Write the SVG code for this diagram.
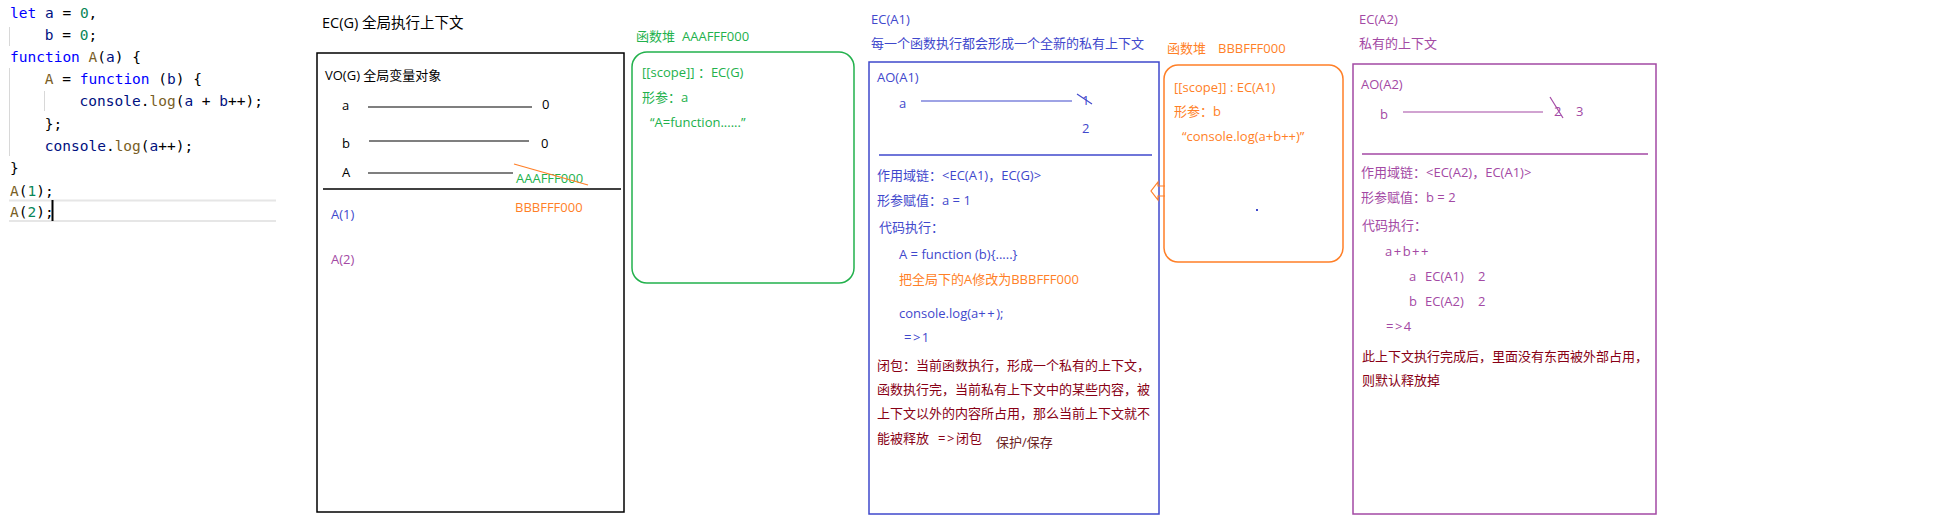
<svg xmlns="http://www.w3.org/2000/svg" width="1954" height="532" viewBox="0 0 1954 532">
<style>
text{font-family:"Open Sans","Noto Sans CJK SC",sans-serif;font-size:13px}
.code text{font-family:"DejaVu Sans Mono","Liberation Mono",monospace;font-size:14.5px;fill:#000}
.kw{fill:#0000ff}.vr{fill:#001080}.nm{fill:#098658}.fn{fill:#795e26}
.blk{fill:#000}.grn{fill:#22b14c}.org{fill:#ff7f27}.ind{fill:#3f48cc}.pur{fill:#a349a4}.red{fill:#880015}
.box{fill:none;stroke-width:1.5}
.ls{letter-spacing:1.5px}
</style>
<rect width="1954" height="532" fill="#fff"/>
<g id="code" class="code">
<line x1="9.5" y1="27" x2="9.5" y2="46" stroke="#d8d8d8"/>
<line x1="9.5" y1="68" x2="9.5" y2="156" stroke="#d8d8d8"/>
<line x1="44.5" y1="91" x2="44.5" y2="111" stroke="#d8d8d8"/>
<line x1="9" y1="200.5" x2="276" y2="200.5" stroke="#e6e6e6" stroke-width="2"/>
<line x1="9" y1="221" x2="276" y2="221" stroke="#e6e6e6" stroke-width="2"/>
<line x1="52.5" y1="200" x2="52.5" y2="221" stroke="#000" stroke-width="2"/>
<text x="10" y="18"><tspan class="kw">let</tspan> <tspan class="vr">a</tspan> = <tspan class="nm">0</tspan>,</text>
<text x="44.8" y="40"><tspan class="vr">b</tspan> = <tspan class="nm">0</tspan>;</text>
<text x="10" y="62"><tspan class="kw">function</tspan> <tspan class="fn">A</tspan>(<tspan class="vr">a</tspan>) {</text>
<text x="44.8" y="84"><tspan class="fn">A</tspan> = <tspan class="kw">function</tspan> (<tspan class="vr">b</tspan>) {</text>
<text x="79.6" y="106"><tspan class="vr">console</tspan>.<tspan class="fn">log</tspan>(<tspan class="vr">a</tspan> + <tspan class="vr">b</tspan>++);</text>
<text x="44.8" y="129">};</text>
<text x="44.8" y="151"><tspan class="vr">console</tspan>.<tspan class="fn">log</tspan>(<tspan class="vr">a</tspan>++);</text>
<text x="10" y="173">}</text>
<text x="10" y="196"><tspan class="fn">A</tspan>(<tspan class="nm">1</tspan>);</text>
<text x="10" y="217"><tspan class="fn">A</tspan>(<tspan class="nm">2</tspan>);</text>
</g>
<g id="ecg">
<text x="322" y="28" class="blk" style="font-size:14.5px">EC(G) 全局执行上下文</text>
<rect x="317" y="53" width="307" height="459" class="box" stroke="#000"/>
<text x="325" y="80" class="blk">VO(G) 全局变量对象</text>
<text x="342" y="110" class="blk">a</text>
<text x="542" y="109" class="blk">0</text>
<text x="342" y="148" class="blk">b</text>
<text x="541" y="148" class="blk">0</text>
<text x="342" y="177" class="blk">A</text>
<text x="516" y="183" class="grn">AAAFFF000</text>
<text x="515" y="212" class="org">BBBFFF000</text>
<line x1="323" y1="189" x2="621" y2="189" stroke="#000" stroke-width="1.5"/>
<text x="331" y="219" class="ind">A(1)</text>
<text x="331" y="264" class="pur">A(2)</text>
</g>
<g id="heapA">
<text x="636" y="41" class="grn">函数堆</text>
<text x="682" y="41" class="grn">AAAFFF000</text>
<rect x="632" y="52" width="222" height="231" rx="15" class="box" stroke="#22b14c"/>
<text x="642" y="77" class="grn">[[scope]] ：EC(G)</text>
<text x="642" y="102" class="grn">形参：a</text>
<text x="650" y="127" class="grn">“A=function......”</text>
</g>
<g id="eca1">
<text x="871" y="24" class="ind">EC(A1)</text>
<text x="871" y="48" class="ind">每一个函数执行都会形成一个全新的私有上下文</text>
<rect x="869" y="62" width="290" height="452" class="box" stroke="#3f48cc"/>
<text x="877" y="82" class="ind">AO(A1)</text>
<text x="899" y="108" class="ind">a</text>
<text x="1082" y="105" class="ind">1</text>
<text x="1082" y="133" class="ind">2</text>
<line x1="879" y1="155" x2="1152" y2="155" stroke="#3f48cc" stroke-width="1.5"/>
<text x="877" y="180" class="ind">作用域链：&lt;EC(A1)，EC(G)&gt;</text>
<text x="877" y="205" class="ind">形参赋值：a = 1</text>
<text x="879" y="232" class="ind">代码执行：</text>
<text x="899" y="259" class="ind">A = function (b){.....}</text>
<text x="899" y="284" class="org">把全局下的A修改为BBBFFF000</text>
<text x="899" y="318" class="ind">console.log(a<tspan class="ls">++</tspan>);</text>
<text x="904" y="342" class="ind ls">=&gt;1</text>
<text x="877" y="370" class="red">闭包：当前函数执行，形成一个私有的上下文，</text>
<text x="877" y="394" class="red">函数执行完，当前私有上下文中的某些内容，被</text>
<text x="877" y="418" class="red">上下文以外的内容所占用，那么当前上下文就不</text>
<text x="877" y="443" class="red">能被释放</text>
<text x="938" y="443" class="red"><tspan class="ls">=&gt;</tspan>闭包</text>
<text x="996" y="447" style="fill:#6b1f25">保护/保存</text>
</g>
<g id="heapB">
<text x="1167" y="53" class="org">函数堆</text>
<text x="1218" y="53" class="org">BBBFFF000</text>
<rect x="1164" y="65" width="179" height="197" rx="14" class="box" stroke="#ff7f27"/>
<text x="1174" y="92" class="org">[[scope]] : EC(A1)</text>
<text x="1174" y="116" class="org">形参：b</text>
<text x="1182" y="141" class="org">“console.log(a+b++)”</text>
<rect x="1256" y="209" width="2" height="2" fill="#3f48cc"/>
</g>
<g id="eca2">
<text x="1359" y="24" class="pur">EC(A2)</text>
<text x="1359" y="48" class="pur">私有的上下文</text>
<rect x="1353" y="64" width="303" height="450" class="box" stroke="#a349a4"/>
<text x="1361" y="89" class="pur">AO(A2)</text>
<text x="1380" y="119" class="pur">b</text>
<text x="1554" y="116" class="pur">2</text>
<text x="1576" y="116" class="pur">3</text>
<line x1="1362" y1="154" x2="1648" y2="154" stroke="#a349a4" stroke-width="1.5"/>
<text x="1361" y="177" class="pur">作用域链：&lt;EC(A2)，EC(A1)&gt;</text>
<text x="1361" y="202" class="pur">形参赋值：b = 2</text>
<text x="1362" y="230" class="pur">代码执行：</text>
<text x="1385" y="256" class="pur ls">a+b++</text>
<text x="1409" y="281" class="pur">a</text>
<text x="1425" y="281" class="pur">EC(A1)</text>
<text x="1478" y="281" class="pur">2</text>
<text x="1409" y="306" class="pur">b</text>
<text x="1425" y="306" class="pur">EC(A2)</text>
<text x="1478" y="306" class="pur">2</text>
<text x="1386" y="331" class="pur ls">=&gt;4</text>
<text x="1362" y="361" class="red">此上下文执行完成后，里面没有东西被外部占用，</text>
<text x="1362" y="385" class="red">则默认释放掉</text>
</g>
<g id="connectors" fill="none" stroke-width="1.2">
<line x1="368" y1="107" x2="532" y2="107" stroke="#000"/>
<line x1="369" y1="141" x2="529" y2="141" stroke="#000"/>
<line x1="368" y1="173" x2="513" y2="173" stroke="#000"/>
<line x1="514" y1="164" x2="588" y2="185" stroke="#ff7f27"/>
<line x1="921" y1="101" x2="1072" y2="101" stroke="#3f48cc"/>
<line x1="1077" y1="94" x2="1092" y2="104" stroke="#3f48cc"/>
<line x1="1403" y1="112" x2="1543" y2="112" stroke="#a349a4"/>
<line x1="1550" y1="97" x2="1563" y2="118" stroke="#a349a4"/>
<polyline points="1165,186 1158,186 1158,182 1151,191 1158,200 1158,196 1165,196" stroke="#ff7f27"/>
</g>
</svg>
